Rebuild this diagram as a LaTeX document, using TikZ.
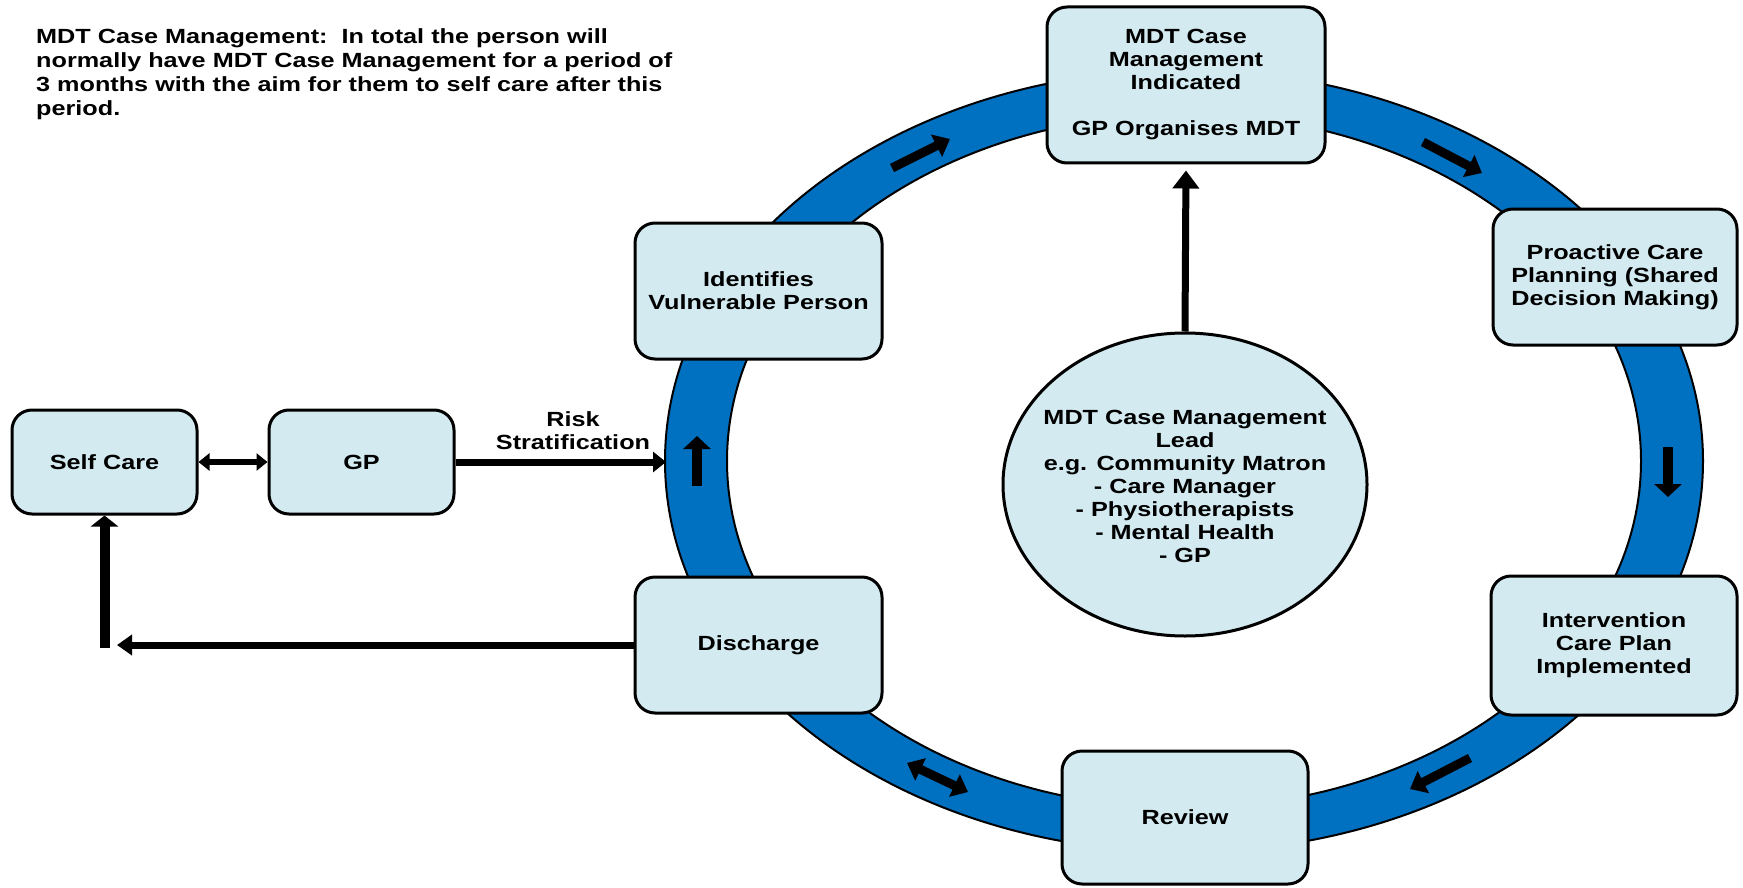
\documentclass[tikz,border=0pt]{standalone}
\usepackage{fontspec}
\newfontfamily\diagfont[FakeStretch=1.23]{Liberation Sans}
\usetikzlibrary{arrows.meta,shapes.geometric}

\definecolor{boxblue}{RGB}{210,234,240}
\definecolor{ringblue}{RGB}{0,112,192}

\tikzset{
  stepbox/.style={draw=black, line width=3pt, fill=boxblue, rounded corners=20pt,
    align=center, inner sep=0pt},
  link/.style={line width=7pt, -{Triangle[length=13pt,width=20pt]}},
  twoway/.style={line width=6pt, {Triangle[length=11pt,width=17pt]}-{Triangle[length=11pt,width=17pt]}},
  ringarrow/.style={line width=9pt, -{Triangle[length=15pt,width=24pt]}},
  ringtwoway/.style={line width=9pt, {Triangle[length=15pt,width=24pt]}-{Triangle[length=15pt,width=24pt]}},
  stubarrow/.style={line width=10pt, -{Triangle[length=13pt,width=27pt]}},
}

\begin{document}
\begin{tikzpicture}[x=1pt, y=-1pt,
  font={\diagfont\bfseries\fontsize{20.5pt}{23pt}\selectfont}]
\useasboundingbox (0,0) rectangle (1743,888);

% care cycle ring
\fill[ringblue, even odd rule]
  (1184,461) ellipse [x radius=519pt, y radius=391pt]
  (1184,461) ellipse [x radius=457pt, y radius=347pt];
\draw[line width=2pt] (1184,461) ellipse [x radius=519pt, y radius=391pt];
\draw[line width=2pt] (1184,461) ellipse [x radius=457pt, y radius=347pt];

% direction arrows along the ring
\coordinate (r1a) at (892,168);  \coordinate (r1b) at (950,139);
\coordinate (r2a) at (1423,142); \coordinate (r2b) at (1482,173);
\coordinate (r3a) at (1668,447); \coordinate (r3b) at (1668,497);
\coordinate (r4a) at (1470,758); \coordinate (r4b) at (1410,789);
\coordinate (r5a) at (907,763);  \coordinate (r5b) at (968,792);
\coordinate (r6a) at (697,486);  \coordinate (r6b) at (697,436);
\draw[ringarrow] (r1a) -- (r1b);
\draw[ringarrow] (r2a) -- (r2b);
\draw[stubarrow] (r3a) -- (r3b);
\draw[ringarrow] (r4a) -- (r4b);
\draw[ringtwoway] (r5a) -- (r5b);
\draw[stubarrow] (r6a) -- (r6b);

% explanatory note
\node[anchor=north west, align=left, inner sep=0pt,
  font={\diagfont\bfseries\fontsize{20.5pt}{24pt}\selectfont}] (note) at (36,28)
  {MDT Case Management:\ \ In total the person will\\
   normally have MDT Case Management for a period of\\
   3 months with the aim for them to self care after this\\
   period.};

% boxes on the cycle
\node[stepbox, minimum width=278pt, minimum height=156pt] (mdt) at (1186,85)
  {MDT Case\\Management\\Indicated\\[23pt]GP Organises MDT};
\node[stepbox, minimum width=244pt, minimum height=136pt] (plan) at (1615,277)
  {Proactive Care\\Planning (Shared\\Decision Making)};
\node[stepbox, minimum width=246pt, minimum height=139pt] (intv) at (1614,645.5)
  {Intervention\\Care Plan\\Implemented};
\node[stepbox, minimum width=246pt, minimum height=133pt] (review) at (1185,817.5)
  {Review};
\node[stepbox, minimum width=247pt, minimum height=136pt] (disch) at (758.5,645)
  {Discharge};
\node[stepbox, minimum width=247pt, minimum height=136pt] (ident) at (758.5,291)
  {Identifies\\Vulnerable Person};

% entry boxes
\node[stepbox, minimum width=185pt, minimum height=104pt] (self) at (104.5,462)
  {Self Care};
\node[stepbox, minimum width=185pt, minimum height=104pt] (gp) at (361.5,462)
  {GP};

% case management lead: the oval, then its text on top
\node[ellipse, draw=black, line width=3pt, fill=boxblue, inner sep=0pt,
  minimum width=364pt, minimum height=303pt] (lead) at (1185,484.5) {};
\node[align=center, inner sep=0pt] (leadtext) at ([yshift=-2pt]lead.center)
  {MDT Case Management\\Lead\\e.g. Community Matron\\- Care Manager\\- Physiotherapists\\- Mental Health\\- GP};

% connectors
\coordinate (ringwest) at (666,462);
\coordinate (backtip) at (117,645);
\coordinate (uptail) at (104.5,648);

\draw[twoway] (self.east) -- (gp.west);
\draw[link] (gp.east) -- (ringwest);
\node[align=center, inner sep=0pt] (risk) at (573,431) {Risk\\Stratification};
\draw[link, -{Triangle[length=18pt,width=26pt]}, shorten >=6pt] (lead.north) -- (mdt.south);
\draw[link, -{Triangle[length=15pt,width=20pt]}] (disch.west) -- (backtip);
\draw[stubarrow, -{Triangle[length=11pt,width=27pt]}] (uptail) -- (self.south);
\end{tikzpicture}
\end{document}
